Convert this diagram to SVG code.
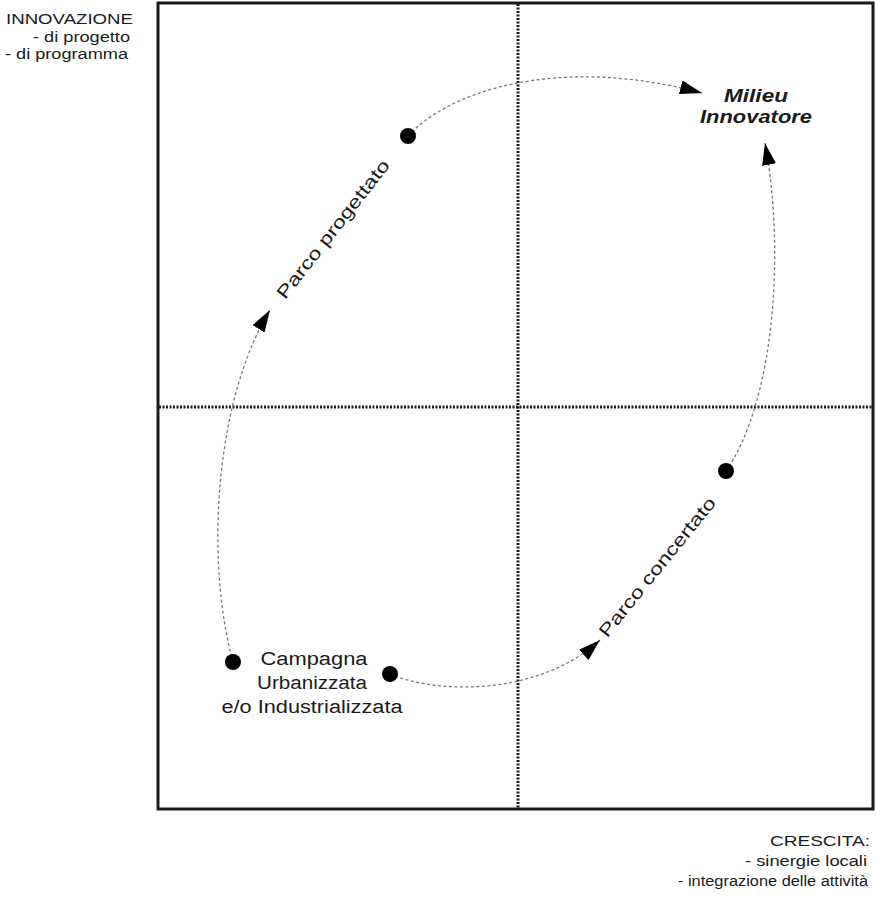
<svg xmlns="http://www.w3.org/2000/svg" width="876" height="898" viewBox="0 0 876 898">
<style>
text{font-family:"Liberation Sans",Arial,sans-serif;fill:#1a1a1a}
.ax{stroke:#1a1a1a;stroke-width:3;stroke-dasharray:2 1.5;fill:none}
.cv{stroke:#777;stroke-width:1.3;stroke-dasharray:3 2.5;fill:none;marker-end:url(#ah)}
.lbl{font-size:18px}
.sm{font-size:14px}
.dot{fill:#000}
</style>
<defs>
<marker id="ah" markerUnits="userSpaceOnUse" markerWidth="24" markerHeight="16" refX="22" refY="7" orient="auto">
<path d="M0,0 L22,7 L0,14 Z" fill="#000"/>
</marker>
</defs>
<rect x="158" y="3" width="715" height="806" fill="#fff" stroke="#1a1a1a" stroke-width="3"/>
<g id="axes">
<line class="ax" x1="518" y1="4" x2="518" y2="808"/>
<line class="ax" x1="159" y1="407" x2="872" y2="407"/>
</g>
<g id="connectors">
<path class="cv" d="M408,136 C450,90 560,55 702,93"/>
<path class="cv" d="M233,662 C205,560 215,400 270,310"/>
<path class="cv" d="M390,674 C440,695 540,695 600,640"/>
<path class="cv" d="M726,471 C775,400 785,250 765,143"/>
</g>
<g id="node-campagna">
<circle class="dot" cx="233" cy="662" r="8"/>
<circle class="dot" cx="390" cy="674" r="8"/>
<text class="lbl" text-anchor="middle" x="314" y="665" textLength="107" lengthAdjust="spacingAndGlyphs">Campagna</text>
<text class="lbl" text-anchor="middle" x="312" y="689" textLength="110" lengthAdjust="spacingAndGlyphs">Urbanizzata</text>
<text class="lbl" text-anchor="middle" x="312" y="713" textLength="181" lengthAdjust="spacingAndGlyphs">e/o Industrializzata</text>
</g>
<g id="node-progettato">
<circle class="dot" cx="408" cy="136" r="8"/>
<text class="lbl" text-anchor="middle" transform="translate(338,233) rotate(-52)" textLength="171" lengthAdjust="spacingAndGlyphs">Parco progettato</text>
</g>
<g id="node-concertato">
<circle class="dot" cx="726" cy="471" r="8"/>
<text class="lbl" text-anchor="middle" transform="translate(662,571) rotate(-51)" textLength="174" lengthAdjust="spacingAndGlyphs">Parco concertato</text>
</g>
<g id="node-milieu">
<text class="lbl" text-anchor="middle" font-weight="bold" font-style="italic" x="756" y="102" textLength="64" lengthAdjust="spacingAndGlyphs">Milieu</text>
<text class="lbl" text-anchor="middle" font-weight="bold" font-style="italic" x="756" y="123" textLength="112" lengthAdjust="spacingAndGlyphs">Innovatore</text>
</g>
<g id="axis-y-label">
<text class="sm" text-anchor="end" x="133" y="24" textLength="127" lengthAdjust="spacingAndGlyphs">INNOVAZIONE</text>
<text class="sm" text-anchor="end" x="130" y="42" textLength="97" lengthAdjust="spacingAndGlyphs">- di progetto</text>
<text class="sm" text-anchor="end" x="128" y="59" textLength="123" lengthAdjust="spacingAndGlyphs">- di programma</text>
</g>
<g id="axis-x-label">
<text class="sm" text-anchor="end" x="870" y="846" textLength="100" lengthAdjust="spacingAndGlyphs">CRESCITA:</text>
<text class="sm" text-anchor="end" x="867" y="866" textLength="122" lengthAdjust="spacingAndGlyphs">- sinergie locali</text>
<text class="sm" text-anchor="end" x="868" y="886" textLength="190" lengthAdjust="spacingAndGlyphs">- integrazione delle attività</text>
</g>
</svg>
